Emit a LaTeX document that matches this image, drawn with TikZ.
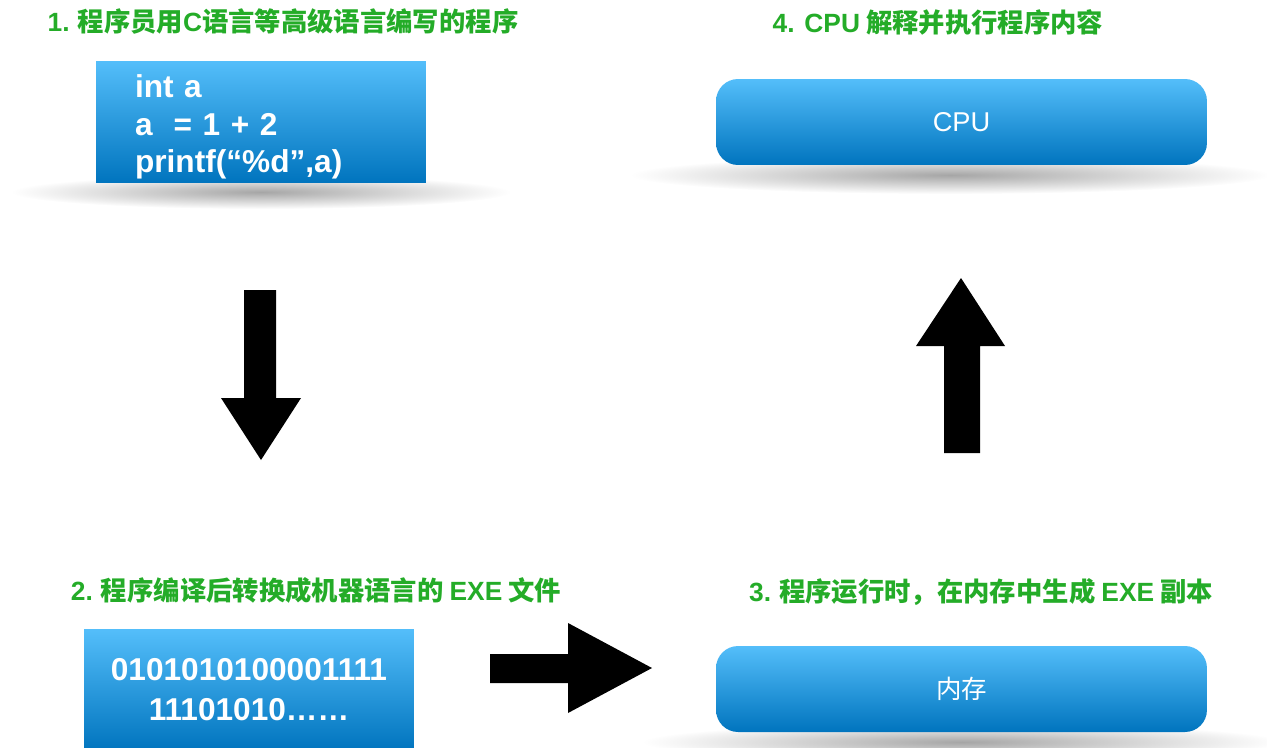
\documentclass[tikz,border=0pt]{standalone}
\usepackage{fontspec}
\setmainfont{Liberation Sans}
\newfontfamily\cjk{Noto Sans CJK SC}
\usepackage{tikz}
\usetikzlibrary{positioning}

\definecolor{titlegreen}{RGB}{36,172,40}
\definecolor{boxtop}{RGB}{84,190,250}
\definecolor{boxbottom}{RGB}{0,116,190}
\newcommand{\lat}[1]{{\rmfamily\bfseries #1}}

\begin{document}
\begin{tikzpicture}[x=0.02cm,y=-0.02cm,
  steptitle/.style={text=titlegreen, font=\cjk\bfseries\fontsize{15}{18}\selectfont, inner sep=0pt},
  codebox/.style={shade, top color=boxtop, bottom color=boxbottom, text=white,
    minimum width=6.6cm, minimum height=2.44cm, inner sep=0pt},
  pillbox/.style={shade, top color=boxtop, bottom color=boxbottom, text=white,
    rounded corners=0.44cm, minimum width=9.82cm, minimum height=1.72cm, inner sep=0pt,
    font=\fontsize{15.5}{18}\selectfont},
  blockarrow/.style={fill=black}]
\useasboundingbox (0,0) rectangle (1267,747);
% shadows
\shade[inner color=black!35, outer color=white] (261,192) ellipse (250 and 17);
\shade[inner color=black!35, outer color=white] (950,175) ellipse (320 and 19);
\shade[inner color=black!35, outer color=white] (962,742) ellipse (320 and 19);
% titles
\node[steptitle] (T1) at (283,22) {\lat{1.} 程序员用\lat{C}语言等高级语言编写的程序};
\node[steptitle] (T2) at (316,590) {\lat{2.} 程序编译后转换成机器语言的 \lat{EXE} 文件};
\node[steptitle] (T3) at (981,592) {\lat{3.} 程序运行时，在内存中生成 \lat{EXE} 副本};
\node[steptitle] (T4) at (938,22) {\lat{4. CPU} 解释并执行程序内容};
% boxes
\node[codebox] (src) at (261,122) {};
\node[align=left, text width=5.04cm, text=white, inner sep=0pt,
  font=\bfseries\fontsize{18}{21.5}\selectfont] (srccode) at (261,127)
  {int a\\a~ = 1 + 2\\printf(“\%d”,a)};
\node[codebox, align=center, font=\bfseries\fontsize{18}{22.7}\selectfont] (exe) at (249,690)
  {0101010100001111\\11101010……};
\node[pillbox] (cpu) at (961.5,122) {CPU};
\node[pillbox, font=\cjk\fontsize{14.5}{18}\selectfont] (mem) at (961.5,689) {内存};
% arrows
\fill[blockarrow] (244,290) -- (276,290) -- (276,398) -- (301,398) -- (261,460) -- (221,398) -- (244,398) -- cycle;
\fill[blockarrow] (490,654) -- (568,654) -- (568,623) -- (652,668) -- (568,713) -- (568,683) -- (490,683) -- cycle;
\fill[blockarrow] (944,453) -- (980,453) -- (980,346) -- (1005,346) -- (961,278) -- (916,346) -- (944,346) -- cycle;
\end{tikzpicture}
\end{document}
